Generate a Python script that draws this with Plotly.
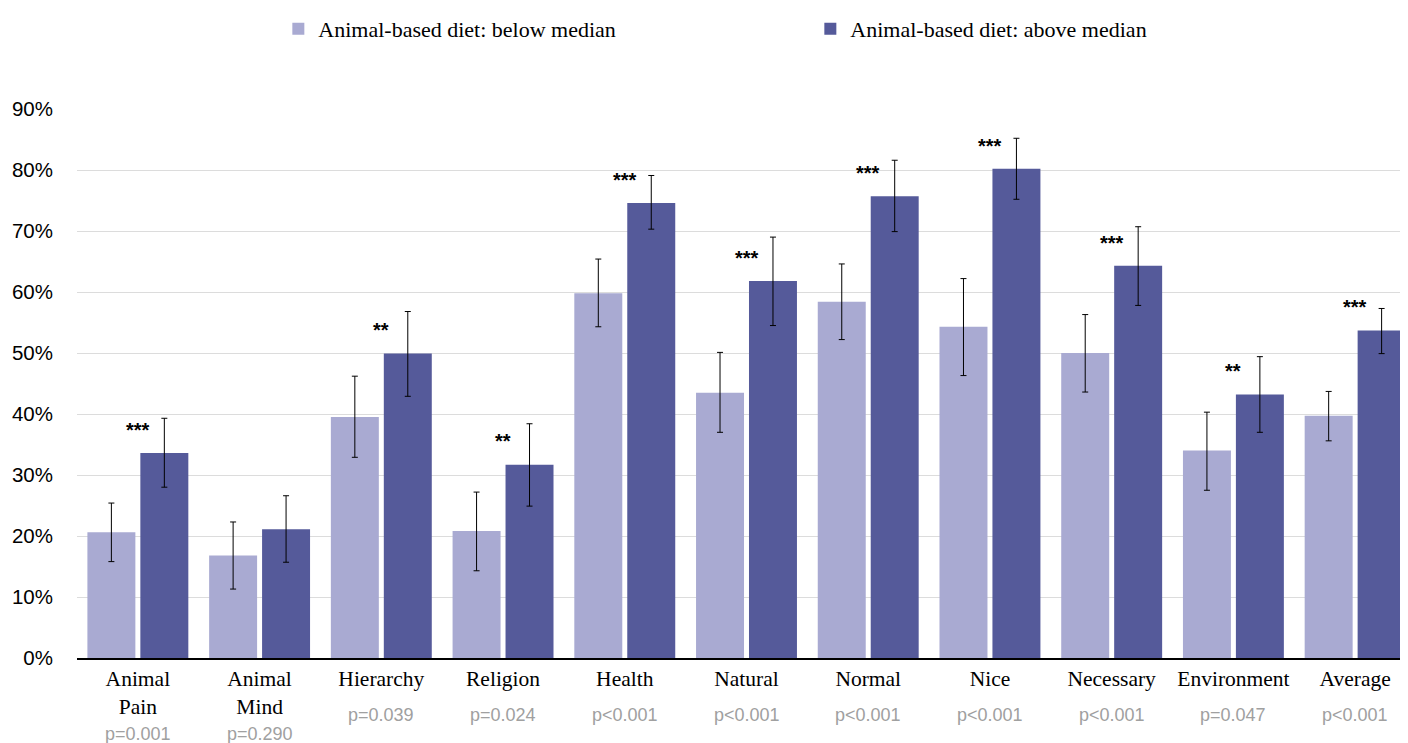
import plotly.graph_objects as go

categories = ["Animal<br>Pain", "Animal<br>Mind", "Hierarchy", "Religion", "Health", "Natural",
              "Normal", "Nice", "Necessary", "Environment", "Average"]
p_values = ["p=0.001", "p=0.290", "p=0.039", "p=0.024", "p<0.001", "p<0.001",
            "p<0.001", "p<0.001", "p<0.001", "p=0.047", "p<0.001"]
stars = ["***", "", "**", "**", "***", "***", "***", "***", "***", "**", "***"]

below = [20.6, 16.8, 39.5, 20.8, 59.8, 43.5, 58.4, 54.3, 50.0, 34.0, 39.7]
below_hi = [25.4, 22.3, 46.2, 27.2, 65.4, 50.1, 64.6, 62.2, 56.3, 40.3, 43.7]
below_lo = [15.8, 11.3, 32.9, 14.3, 54.3, 37.0, 52.2, 46.3, 43.6, 27.5, 35.6]

above = [33.6, 21.1, 49.9, 31.7, 74.6, 61.8, 75.7, 80.2, 64.3, 43.2, 53.7]
above_hi = [39.3, 26.6, 56.8, 38.4, 79.1, 69.0, 81.6, 85.2, 70.7, 49.4, 57.3]
above_lo = [28.0, 15.7, 42.9, 24.9, 70.3, 54.5, 69.9, 75.2, 57.8, 37.0, 49.9]

LIGHT = "#A9AAD2"
DARK = "#555A9A"

def err(vals, hi, lo):
    return dict(type="data", symmetric=False,
                array=[h - v for v, h in zip(vals, hi)],
                arrayminus=[v - l for v, l in zip(vals, lo)],
                color="black", thickness=1, width=3)

fig = go.Figure()
fig.add_trace(go.Bar(x=categories, y=below, name="Animal-based diet: below median",
                     marker=dict(color=LIGHT, line=dict(width=0)),
                     error_y=err(below, below_hi, below_lo)))
fig.add_trace(go.Bar(x=categories, y=above, name="Animal-based diet: above median",
                     marker=dict(color=DARK, line=dict(width=0)),
                     error_y=err(above, above_hi, above_lo)))

for cat, s, v in zip(categories, stars, above):
    if s:
        fig.add_annotation(x=cat, y=v + 3.8, text="<b>" + s + "</b>", showarrow=False,
                           font=dict(family="Liberation Sans, Arial", size=20, color="black"),
                           xanchor="center", yanchor="middle")

for cat, p in zip(categories, p_values):
    two_line = "<br>" in cat
    fig.add_annotation(x=cat, y=0, yref="y", text=p, showarrow=False,
                       font=dict(family="Liberation Sans, Arial", size=18, color="#a0a0a0"),
                       xanchor="center", yanchor="middle",
                       yshift=-(76 if two_line else 57))

fig.update_layout(
    width=1408, height=743,
    margin=dict(l=69, r=0, t=101, b=93),
    paper_bgcolor="white", plot_bgcolor="white",
    barmode="group", bargap=0.13, bargroupgap=0.094,
    showlegend=True,
    legend=dict(orientation="h", xref="container", yref="container",
                x=0.192, y=1.0, xanchor="left", yanchor="top",
                font=dict(family="Liberation Serif, Times New Roman", size=22, color="black"),
                entrywidth=487, entrywidthmode="pixels", traceorder="normal"),
    xaxis=dict(type="category", showgrid=False, ticks="",
               showline=True, linecolor="black", linewidth=2,
               tickfont=dict(family="Liberation Serif, Times New Roman", size=21.5, color="black")),
    yaxis=dict(range=[0, 90], dtick=10, ticksuffix="%", showgrid=True, gridcolor="#dcdcdc",
               gridwidth=1, zeroline=False, showline=False, ticks="", ticklabelstandoff=23,
               tickfont=dict(family="Liberation Sans, Arial", size=20.5, color="black")),
)

fig.write_html("out.html")
